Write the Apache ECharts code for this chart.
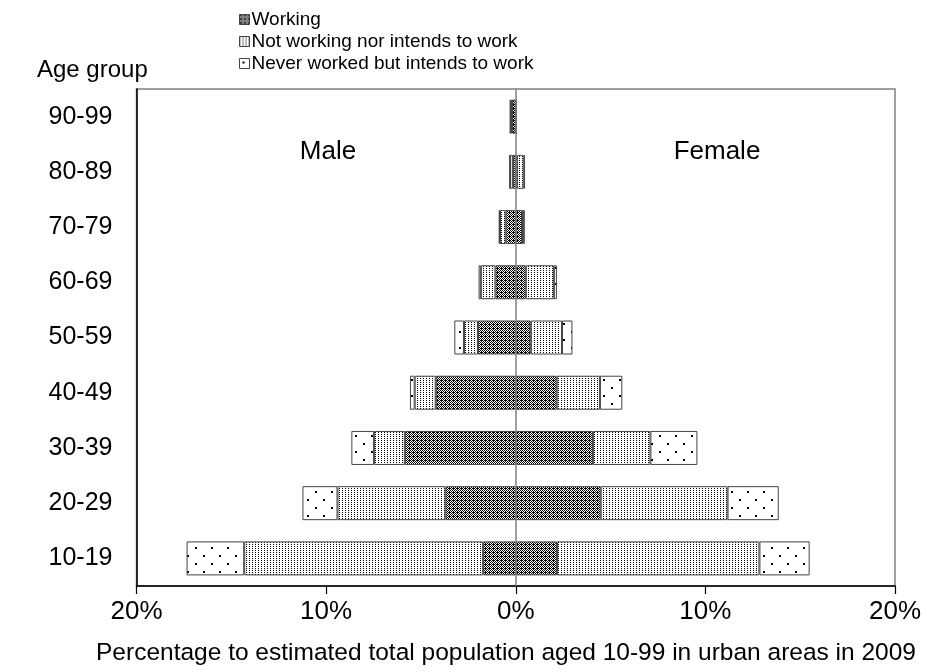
<!DOCTYPE html>
<html><head><meta charset="utf-8">
<script src="https://cdn.jsdelivr.net/npm/echarts@6/dist/echarts.min.js"></script>
<style>html,body{margin:0;padding:0;background:#fff}#c{width:927px;height:672px}</style>
</head><body><div id="c"></div>
<script>
const categories = ['10-19','20-29','30-39','40-49','50-59','60-69','70-79','80-89','90-99'];
const maleWorking    = [1.72, 3.71, 5.85, 4.22, 1.99, 1.07, 0.53, 0.15, 0.20];
const maleNotWorking = [12.6, 5.69, 1.62, 1.11, 0.74, 0.77, 0.30, 0.15, 0.08];
const maleNever      = [3.04, 1.85, 1.20, 0.25, 0.51, 0.12, 0.07, 0.03, 0.02];
const femaleWorking    = [2.18, 4.48, 4.07, 2.16, 0.79, 0.53, 0.33, 0.07, 0.02];
const femaleNotWorking = [10.67, 6.69, 3.03, 2.28, 1.65, 1.48, 0.09, 0.35, 0.01];
const femaleNever      = [2.65, 2.70, 2.48, 1.18, 0.55, 0.16, 0.04, 0.07, 0.01];
const xTicks = [-20, -10, 0, 10, 20];
const seriesNames = ['Working', 'Not working nor intends to work', 'Never worked but intends to work'];
const axisTitle = 'Percentage to estimated total population aged 10-99 in urban areas in 2009';
const FONT = 'Liberation Sans, Arial, sans-serif';

function makePattern(w, h, dots, size) {
  const c = document.createElement('canvas');
  c.width = w; c.height = h;
  const g = c.getContext('2d');
  g.fillStyle = '#fff'; g.fillRect(0, 0, w, h);
  g.fillStyle = '#000';
  dots.forEach(d => g.fillRect(d[0], d[1], size, size));
  return { image: c, repeat: 'repeat' };
}
const patWorking = makePattern(4, 4, [[0,0],[2,0],[1,1],[3,1],[0,2],[2,2],[1,3],[3,3],[1,0]], 1);
const patNot = makePattern(3, 2, [[0,0]], 1);
const patNever = makePattern(16, 16, [[3,3],[11,11]], 2);
const pats = [patWorking, patNot, patNever];

const neg = a => a.map(v => -v);
const maleData = [maleWorking, maleNotWorking, maleNever];
const femaleData = [femaleWorking, femaleNotWorking, femaleNever];

const series = [];
for (let i = 0; i < 3; i++) {
  series.push({
    name: seriesNames[i], type: 'bar', stack: 'pop', barWidth: 34,
    data: neg(maleData[i]),
    itemStyle: { color: pats[i], borderColor: '#444', borderWidth: 1 },
    emphasis: { disabled: true }
  });
}
for (let i = 0; i < 3; i++) {
  series.push({
    name: seriesNames[i], type: 'bar', stack: 'pop', barWidth: 34,
    data: femaleData[i],
    itemStyle: { color: pats[i], borderColor: '#444', borderWidth: 1 },
    emphasis: { disabled: true }
  });
}
series[0].markLine = {
  silent: true, symbol: 'none', label: { show: false },
  lineStyle: { color: '#808080', type: 'solid', width: 1.5 },
  data: [{ xAxis: 0 }]
};

const chart = echarts.init(document.getElementById('c'), null, { renderer: 'canvas' });
chart.setOption({
  animation: false,
  textStyle: { fontFamily: FONT, color: '#000' },
  grid: { left: 136.5, right: 32, top: 89, bottom: 86, show: true, borderColor: '#808080', borderWidth: 1.5 },
  legend: {
    orient: 'vertical', left: 234, top: 5, itemWidth: 10, itemHeight: 10, itemGap: 3,
    icon: 'rect',
    textStyle: { fontSize: 19, color: '#000', fontFamily: FONT, padding: [0, 0, 0, -3] },
    itemStyle: { borderColor: '#444', borderWidth: 1 },
    data: seriesNames
  },
  xAxis: {
    type: 'value', min: -20, max: 20, interval: 10,
    axisLine: { show: true, lineStyle: { color: '#000', width: 1.5 } },
    axisTick: { show: true, length: 8, lineStyle: { color: '#000', width: 1.2 }, customValues: xTicks },
    axisLabel: { fontSize: 26, color: '#000', margin: 13, formatter: v => Math.abs(v) + '%', customValues: xTicks },
    splitLine: { show: false }
  },
  yAxis: {
    type: 'category', data: categories,
    axisLine: { show: true, onZero: false, lineStyle: { color: '#000', width: 1.5 } },
    axisTick: { show: false },
    axisLabel: { fontSize: 25, color: '#000', margin: 24 }
  },
  graphic: [
    { type: 'text', left: 37, top: 58, style: { text: 'Age group', fontSize: 24, fill: '#000', fontFamily: FONT } },
    { type: 'text', x: 328, y: 152, style: { text: 'Male', fontSize: 26, fill: '#000', align: 'center', verticalAlign: 'middle', fontFamily: FONT } },
    { type: 'text', x: 717, y: 152, style: { text: 'Female', fontSize: 26, fill: '#000', align: 'center', verticalAlign: 'middle', fontFamily: FONT } },
    { type: 'text', x: 506, y: 653, style: { text: axisTitle, fontSize: 24.5, fill: '#000', align: 'center', verticalAlign: 'middle', fontFamily: FONT } }
  ],
  series: series
});
</script></body></html>
